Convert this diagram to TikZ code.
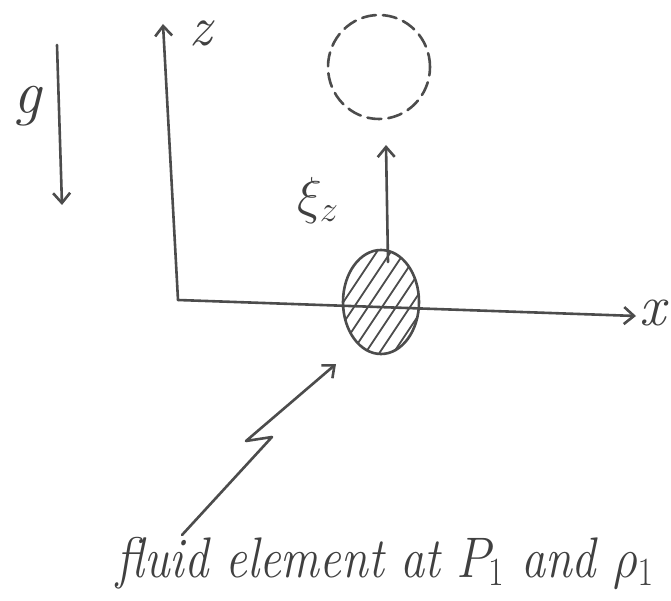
\documentclass[tikz,border=0pt]{standalone}
\usepackage{fix-cm}
\usetikzlibrary{arrows.meta,shapes.geometric}
\begin{document}
\begin{tikzpicture}[x=1pt,y=-1pt,
  ink/.style={draw=black!70,line width=2.6pt,line cap=round,line join=round},
  tip/.style={-{Straight Barb[length=10pt,width=17pt,line width=2.6pt]}},
  lbl/.style={text=black!75,inner sep=0pt}]
\useasboundingbox (0,0) rectangle (671,601);
% coordinates
\coordinate (O) at (178,300);
\coordinate (ztop) at (163,24);
\coordinate (xend) at (636,316);
\coordinate (gtop) at (57,45);
\coordinate (gbot) at (62,205);
\coordinate (vbot) at (388,262);
\coordinate (vtop) at (386,145);
\coordinate (lstart) at (182,535);
\coordinate (lA) at (272,437);
\coordinate (lB) at (246,441);
\coordinate (ltip) at (336,364);
% axes
\draw[ink,tip] (O) -- (ztop);
\draw[ink,tip] (O) -- (xend);
\node[lbl,font=\fontsize{56}{56}\selectfont\itshape] (zl) at (201,33) {z};
\node[lbl,font=\fontsize{58}{58}\selectfont\itshape] (xl) at (653,313) {x};
% gravity
\draw[ink,tip] (gtop) -- (gbot);
\node[lbl,font=\fontsize{62}{62}\selectfont\itshape] (gl) at (27,106) {g};
% dashed circle
\node[ink,dash pattern=on 14pt off 7pt,ellipse,minimum width=102pt,minimum height=104pt] (ghost) at (379,67) {};
% hatched element
\begin{scope}
\clip (381,302) ellipse [x radius=38, y radius=52];
\foreach \k in {-120,-106,...,150}
  \draw[draw=black!70,line width=1.8pt] (300+\k,400) -- (420+\k,220);
\end{scope}
\node[ink,ellipse,minimum width=76pt,minimum height=104pt,inner sep=0pt] (elem) at (381,302) {};
% displacement arrow
\draw[ink,tip] (vbot) -- (vtop);
\node[lbl,font=\fontsize{52}{52}\selectfont] (xi) at (318,201) {$\xi_z$};
% lightning pointer
\draw[ink,tip] (lstart) -- (lA) -- (lB) -- (ltip);
% caption
\node[lbl,font=\fontsize{44}{44}\selectfont\itshape,anchor=base,xscale=1.1,yscale=1.3] (cap) at (385,577) {fluid element at $P_1$ and $\rho_1$};
\end{tikzpicture}
\end{document}
